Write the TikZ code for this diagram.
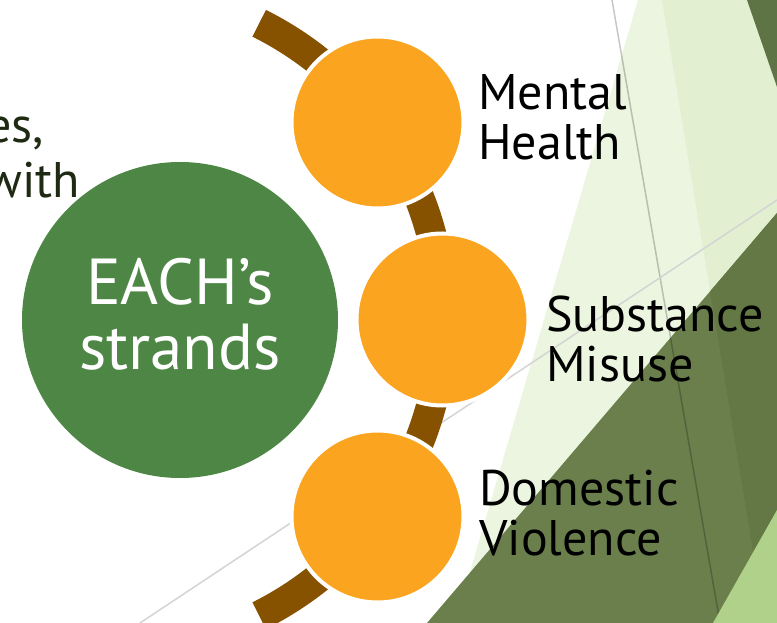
\documentclass[tikz,border=0pt]{standalone}
\usepackage{fontspec}
\setmainfont{PT Sans}
\definecolor{paleA}{HTML}{EBF5DF}
\definecolor{paleB}{HTML}{E2F0D1}
\definecolor{darkTR}{HTML}{5F7445}
\definecolor{oliveA}{HTML}{6A7F4C}
\definecolor{oliveB}{HTML}{637844}
\definecolor{lightG}{HTML}{B0D18A}
\definecolor{lineG}{HTML}{D4D4D4}
\definecolor{brownC}{HTML}{865200}
\definecolor{orangeC}{HTML}{FBA420}
\definecolor{greenC}{HTML}{4E8745}
\definecolor{leftTxt}{HTML}{1E2B12}
\begin{document}
\begin{tikzpicture}[x=1pt,y=-1pt,
  orangecirc/.style={circle, fill=orangeC, draw=white, line width=4pt, minimum size=172pt, inner sep=0pt},
  greencirc/.style={circle, fill=greenC, minimum size=316pt, inner sep=0pt},
  maintext/.style={font=\fontsize{65}{65}\selectfont, align=center, text=white, inner sep=0pt},
  lbl/.style={font=\fontsize{50}{50}\selectfont, align=left, anchor=west, inner sep=0pt, text=black},
  lefttext/.style={font=\fontsize{50}{50}\selectfont, anchor=base east, inner sep=0pt, text=leftTxt},
  brownarc/.style={draw=brownC, line width=30pt},
  thinline/.style={line width=1.5pt}]
\useasboundingbox (0,0) rectangle (777,623);
\clip (0,0) rectangle (777,623);
\fill[white] (0,0) rectangle (777,623);
% background facets
\fill[paleA] (638,0) -- (777,0) -- (777,623) -- (455,623) -- cycle;
\fill[paleB] (662,0) -- (777,0) -- (777,623) -- (765,623) -- cycle;
\fill[darkTR] (747,0) -- (777,0) -- (777,87) -- cycle;
\fill[oliveA] (427,623) -- (777,213) -- (777,623) -- cycle;
\begin{scope}
  \clip (427,623) -- (777,213) -- (777,623) -- cycle;
  \fill[oliveB] (662,0) -- (777,0) -- (777,623) -- (765,623) -- cycle;
\end{scope}
\draw[thinline, black, opacity=0.22] (612,0) -- (720,623);
\fill[lightG] (713,623) -- (777,510) -- (777,623) -- cycle;
\draw[thinline, lineG] (140,623) -- (777,200);
% brown arc
\coordinate (arcC) at (111.5,319.5);
\draw[brownarc] ([shift={(-63.5:331)}]arcC) arc[start angle=-63.5, end angle=63.5, radius=331];
% circles
\node[orangecirc] (c1) at (377.5,122.5) {};
\node[orangecirc] (c2) at (442.5,319.5) {};
\node[orangecirc] (c3) at (377.5,516.5) {};
\node[greencirc] (main) at (180,320) {};
\node[maintext] (maintxt) at (180,314.5) {EACH’s\\strands};
% labels
\node[lbl] (l1) at (478,117) {Mental\\Health};
\node[lbl] (l2) at (546,339) {Substance\\Misuse};
\node[lbl] (l3) at (479,513) {Domestic\\Violence};
% partial left text
\node[lefttext] (t1) at (44,143) {es,};
\node[lefttext] (t2) at (80,197) {with};
\end{tikzpicture}
\end{document}
